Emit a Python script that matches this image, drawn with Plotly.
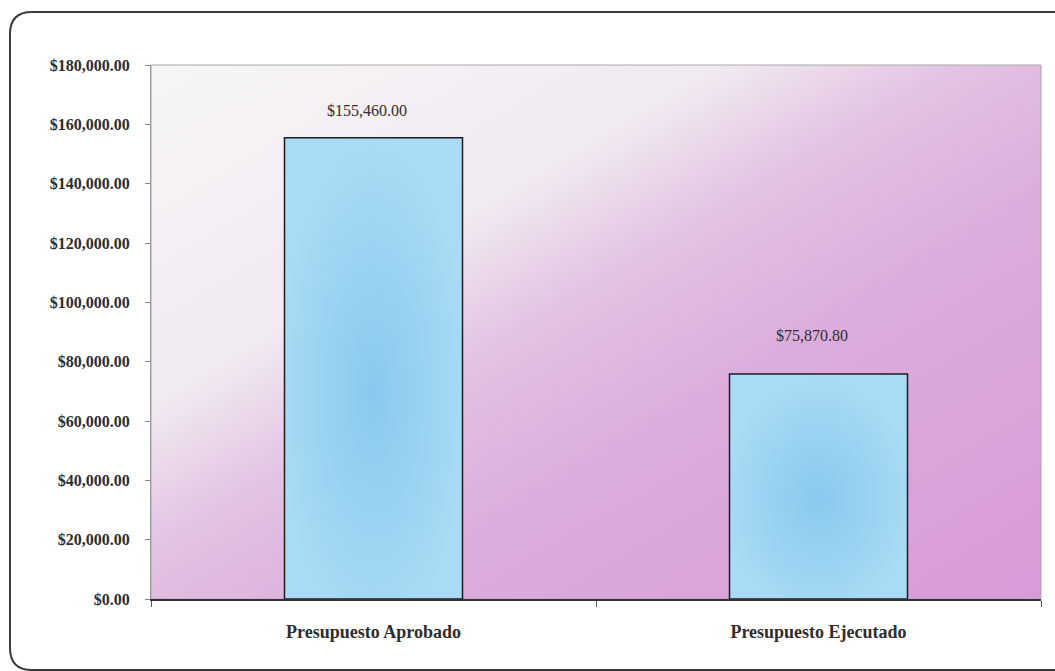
import base64

import plotly.graph_objs as go

categories = ["Presupuesto Aprobado", "Presupuesto Ejecutado"]
values = [155460.00, 75870.80]
value_labels = ["$155,460.00", "$75,870.80"]

y_max = 180000
y_step = 20000

W, H = 1055, 671
M_L, M_R, M_T, M_B = 151, 14, 65, 72
PW, PH = W - M_L - M_R, H - M_T - M_B
SERIF = "Book Antiqua, Palatino Linotype, Liberation Serif, DejaVu Serif, serif"
TEXT = "#2e2e2e"


def svg_uri(svg):
    return "data:image/svg+xml;base64," + base64.b64encode(svg.encode()).decode()


bg_svg = (
    '<svg xmlns="http://www.w3.org/2000/svg" width="100" height="100" '
    'preserveAspectRatio="none" viewBox="0 0 100 100">'
    '<defs><linearGradient id="g" x1="0" y1="0" x2="1" y2="1">'
    '<stop offset="0" stop-color="#f7f5f7"/>'
    '<stop offset="0.32" stop-color="#f1eaf1"/>'
    '<stop offset="0.46" stop-color="#e2c2e2"/>'
    '<stop offset="0.62" stop-color="#dcaddc"/>'
    '<stop offset="1" stop-color="#d99ad9"/>'
    '</linearGradient></defs>'
    '<rect width="100" height="100" fill="url(#g)"/></svg>'
)

bar_svg = (
    '<svg xmlns="http://www.w3.org/2000/svg" width="100" height="100" '
    'preserveAspectRatio="none" viewBox="0 0 100 100">'
    '<defs><radialGradient id="r" cx="0.5" cy="0.55" r="0.55">'
    '<stop offset="0" stop-color="#8ac9ee"/>'
    '<stop offset="1" stop-color="#aadbf4"/>'
    '</radialGradient></defs>'
    '<rect width="100" height="100" fill="url(#r)"/></svg>'
)

bar_width = 0.4
label_shift = [27, 38]

images = [
    dict(
        source=svg_uri(bg_svg), xref="paper", yref="paper", x=0, y=1,
        sizex=1, sizey=1, sizing="stretch", layer="below",
    )
]
for i, v in enumerate(values):
    images.append(
        dict(
            source=svg_uri(bar_svg), xref="x", yref="y", x=i - bar_width / 2, y=v,
            sizex=bar_width, sizey=v, sizing="stretch", layer="below",
        )
    )

trace = go.Bar(
    x=categories,
    y=values,
    width=bar_width,
    marker=dict(color="rgba(0,0,0,0)", line=dict(color="#1e1e1e", width=1.5)),
    hoverinfo="skip",
)

annotations = [
    dict(
        x=c, y=v, text=t, showarrow=False, yshift=s, xshift=-7,
        font=dict(family=SERIF, size=16, color=TEXT),
    )
    for c, v, t, s in zip(categories, values, value_labels, label_shift)
]


def px(x):
    return (x - M_L) / PW


def py(y):
    return (H - M_B - y) / PH


# rounded frame of the scanned chart
left, top, right, bottom, rad = 10, 12, 1070, 670, 22
frame = (
    f"M {px(left)},{py(bottom - rad)} L {px(left)},{py(top + rad)} "
    f"Q {px(left)},{py(top)} {px(left + rad)},{py(top)} "
    f"L {px(right)},{py(top)} "
    f"M {px(left)},{py(bottom - rad)} "
    f"Q {px(left)},{py(bottom)} {px(left + rad)},{py(bottom)} "
    f"L {px(right)},{py(bottom)}"
)

shapes = [
    dict(type="path", path=frame, xref="paper", yref="paper",
         line=dict(color="#3a3a3a", width=2)),
    dict(type="rect", xref="paper", yref="paper", x0=0, y0=0, x1=1, y1=1,
         line=dict(color="#a8a8a8", width=1), layer="below"),
]

layout = go.Layout(
    width=W,
    height=H,
    margin=dict(l=M_L, r=M_R, t=M_T, b=M_B),
    paper_bgcolor="white",
    plot_bgcolor="rgba(0,0,0,0)",
    showlegend=False,
    images=images,
    shapes=shapes,
    annotations=annotations,
    xaxis=dict(
        type="category",
        range=[-0.5, 1.5],
        tickson="boundaries",
        ticks="outside",
        ticklen=6,
        tickcolor="#555",
        showline=True,
        linecolor="#333",
        linewidth=1.5,
        showgrid=False,
        ticklabelstandoff=16,
        tickfont=dict(family=SERIF, size=18, color=TEXT, weight="bold"),
    ),
    yaxis=dict(
        range=[0, y_max],
        dtick=y_step,
        tickformat="$,.2f",
        ticks="outside",
        ticklen=5,
        tickcolor="#888",
        showline=True,
        linecolor="#999",
        linewidth=1,
        showgrid=False,
        zeroline=False,
        ticklabelstandoff=12,
        tickfont=dict(family=SERIF, size=16, color=TEXT, weight="bold"),
    ),
)

fig = go.Figure(data=[trace], layout=layout)
fig.write_html(
    "out.html",
    config=dict(displayModeBar=False),
    post_script="document.body.style.margin='0';document.body.style.overflow='hidden';",
)
